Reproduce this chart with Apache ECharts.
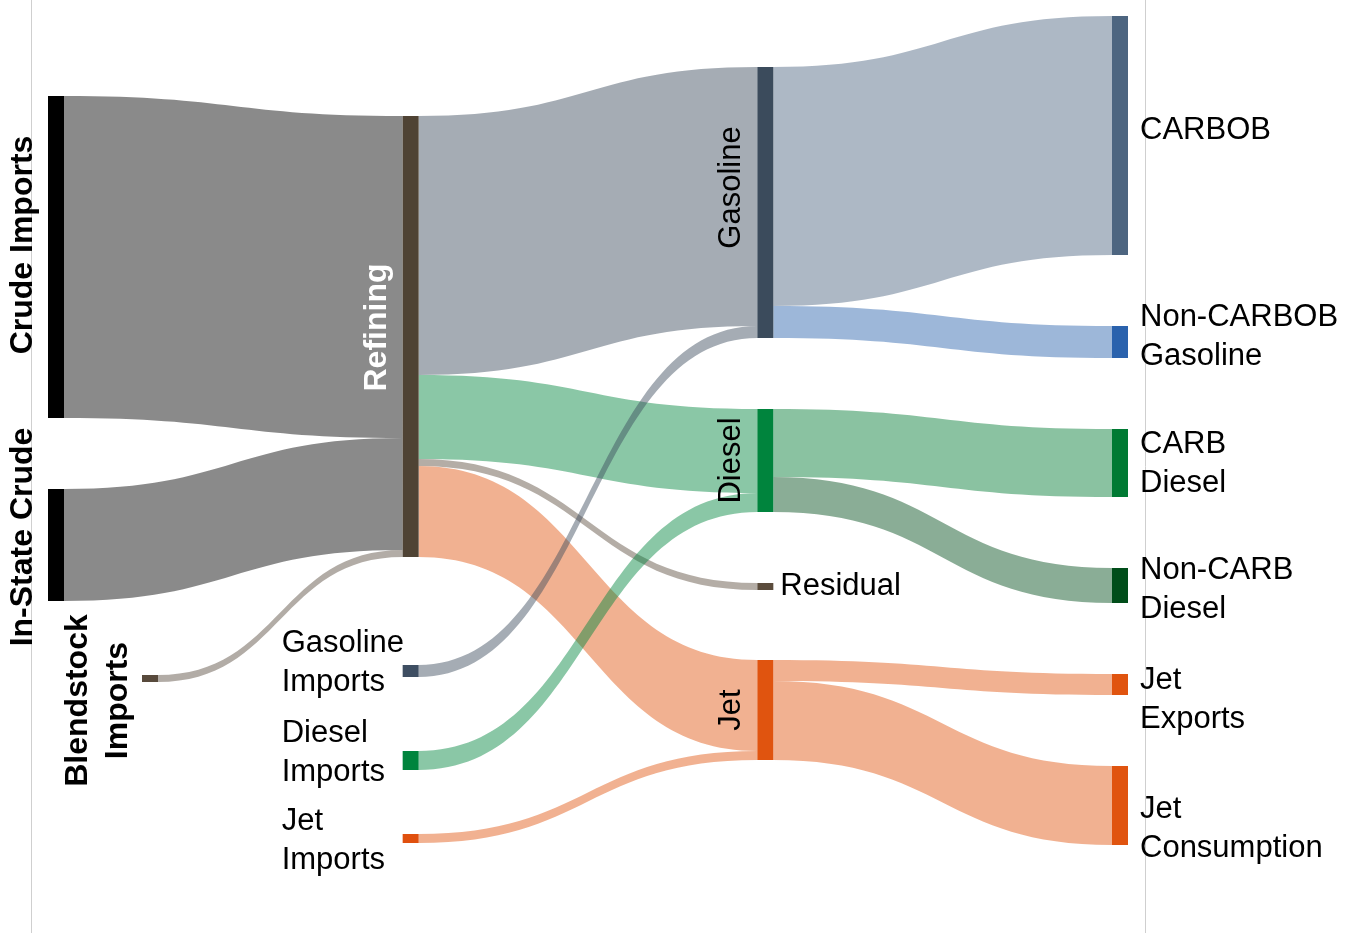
<!DOCTYPE html>
<html>
<head>
<meta charset="utf-8">
<title>Fuel flows</title>
<script src="https://cdn.jsdelivr.net/npm/echarts@6/dist/echarts.min.js"></script>
<style>
    html, body { margin: 0; padding: 0; background: #fff; }
    #mycharts { width: 1355px; height: 933px; }
</style>
</head>
<body>
<div id="mycharts"></div>
<script>
// nodes, in the order they are stacked in each column
const nodeNames = [
    'Crude Imports', 'In-State Crude', 'Blendstock Imports',
    'Refining', 'Gasoline Imports', 'Diesel Imports', 'Jet Imports',
    'Gasoline', 'Diesel', 'Residual', 'Jet',
    'CARBOB', 'Non-CARBOB Gasoline', 'CARB Diesel', 'Non-CARB Diesel', 'Jet Exports', 'Jet Consumption'
];
const nodeColumns = [0, 0, 0, 1, 1, 1, 1, 2, 2, 2, 2, 3, 3, 3, 3, 3, 3];

// flows
const linkSources = [
    'Crude Imports', 'In-State Crude', 'Blendstock Imports',
    'Refining', 'Refining', 'Refining', 'Refining',
    'Gasoline Imports', 'Diesel Imports', 'Jet Imports',
    'Gasoline', 'Gasoline', 'Diesel', 'Diesel', 'Jet', 'Jet'
];
const linkTargets = [
    'Refining', 'Refining', 'Refining',
    'Gasoline', 'Diesel', 'Residual', 'Jet',
    'Gasoline', 'Diesel', 'Jet',
    'CARBOB', 'Non-CARBOB Gasoline', 'CARB Diesel', 'Non-CARB Diesel', 'Jet Exports', 'Jet Consumption'
];
const linkValues = [322, 112, 7, 259, 84, 7, 91, 12, 19, 9, 239, 32, 68, 35, 21, 79];

// series box
const W = 1355, H = 933;
const box = {left: 48, right: 227, top: 16, bottom: 88};
const boxW = W - box.left - box.right;
const boxH = H - box.top - box.bottom;

// hand placement of the nodes that are not simply stacked (page pixels)
const placeTop = {
    'Crude Imports': 96, 'In-State Crude': 489, 'Blendstock Imports': 675,
    'Refining': 116, 'Gasoline Imports': 665, 'Diesel Imports': 751, 'Jet Imports': 834,
    'Gasoline': 67, 'Diesel': 409, 'Residual': 583, 'Jet': 660
};
const placeLeft = {'Blendstock Imports': 142};

const nodeColors = {
    'Crude Imports': '#000000', 'In-State Crude': '#000000', 'Blendstock Imports': '#584a3c',
    'Refining': '#4f4334', 'Gasoline Imports': '#3e4e62', 'Diesel Imports': '#00843d', 'Jet Imports': '#e0500e',
    'Gasoline': '#3b4b5c', 'Diesel': '#00843d', 'Residual': '#5b4c3c', 'Jet': '#e0540f',
    'CARBOB': '#4d6580', 'Non-CARBOB Gasoline': '#2a62ad', 'CARB Diesel': '#007a33',
    'Non-CARB Diesel': '#004d1a', 'Jet Exports': '#e0540f', 'Jet Consumption': '#e0540f'
};

const font = 'Arial, "Liberation Sans", sans-serif';
const bold = {position: 'left', rotate: 90, align: 'center', verticalAlign: 'bottom', distance: 9,
    fontWeight: 'bold', fontSize: 32, color: '#000'};
const midRot = {position: 'left', rotate: 90, align: 'center', verticalAlign: 'bottom', distance: 10,
    fontSize: 31, color: '#000'};
const importLbl = {position: [-121, '50%'], align: 'left', verticalAlign: 'middle', fontSize: 31, lineHeight: 39, color: '#000'};
const rightLbl = {position: 'right', distance: 12, align: 'left', verticalAlign: 'middle', fontSize: 31, lineHeight: 39, color: '#000'};

const labelOpts = {
    'Crude Imports': Object.assign({}, bold, {offset: [12, 0]}),
    'In-State Crude': Object.assign({}, bold, {offset: [8, 0]}),
    'Blendstock Imports': Object.assign({}, bold, {formatter: 'Blendstock\nImports', lineHeight: 40, distance: 4, offset: [-22, 0]}),
    'Refining': Object.assign({}, bold, {color: '#fff', offset: [9, 0]}),
    'Gasoline Imports': Object.assign({}, importLbl, {formatter: 'Gasoline\nImports', offset: [0, -8]}),
    'Diesel Imports': Object.assign({}, importLbl, {formatter: 'Diesel\nImports', offset: [0, -8]}),
    'Jet Imports': Object.assign({}, importLbl, {formatter: 'Jet\nImports', offset: [0, 2]}),
    'Gasoline': Object.assign({}, midRot, {offset: [15, 0]}),
    'Diesel': Object.assign({}, midRot),
    'Residual': Object.assign({}, rightLbl, {distance: 7}),
    'Jet': Object.assign({}, midRot),
    'CARBOB': Object.assign({}, rightLbl, {offset: [0, -5]}),
    'Non-CARBOB Gasoline': Object.assign({}, rightLbl, {formatter: 'Non-CARBOB\nGasoline', offset: [0, -5]}),
    'CARB Diesel': Object.assign({}, rightLbl, {formatter: 'CARB\nDiesel', offset: [0, 1]}),
    'Non-CARB Diesel': Object.assign({}, rightLbl, {formatter: 'Non-CARB\nDiesel', offset: [0, 4]}),
    'Jet Exports': Object.assign({}, rightLbl, {formatter: 'Jet\nExports', offset: [0, 15]}),
    'Jet Consumption': Object.assign({}, rightLbl, {formatter: 'Jet\nConsumption', offset: [0, 23]})
};

const nodes = nodeNames.map(function (name, i) {
    const n = {
        name: name,
        depth: nodeColumns[i],
        itemStyle: {color: nodeColors[name]},
        label: Object.assign({show: true, fontFamily: font}, labelOpts[name])
    };
    if (placeTop[name] != null) n.localY = (placeTop[name] - box.top) / boxH;
    if (placeLeft[name] != null) n.localX = (placeLeft[name] - box.left) / boxW;
    return n;
});

// crude and blendstock flows take the source colour, the rest the target colour
const links = linkValues.map(function (v, i) {
    const s = linkSources[i];
    return {
        source: s,
        target: linkTargets[i],
        value: v,
        lineStyle: {color: nodeColumns[nodeNames.indexOf(s)] === 0 ? 'source' : 'target'}
    };
});

const chart = echarts.init(document.getElementById('mycharts'));
chart.setOption({
    backgroundColor: '#fff',
    animation: false,
    graphic: [
        {type: 'line', shape: {x1: 31.5, y1: 0, x2: 31.5, y2: 933}, style: {stroke: '#cfcfcf', lineWidth: 1}},
        {type: 'line', shape: {x1: 1145.5, y1: 0, x2: 1145.5, y2: 933}, style: {stroke: '#cfcfcf', lineWidth: 1}}
    ],
    series: [{
        type: 'sankey',
        left: box.left,
        right: box.right,
        top: box.top,
        bottom: box.bottom,
        nodeWidth: 16,
        nodeGap: 71,
        nodeAlign: 'left',
        layoutIterations: 0,
        draggable: false,
        emphasis: {disabled: true},
        itemStyle: {borderWidth: 0},
        lineStyle: {curveness: 0.5, opacity: 0.46},
        data: nodes,
        links: links
    }]
});
</script>
</body>
</html>
